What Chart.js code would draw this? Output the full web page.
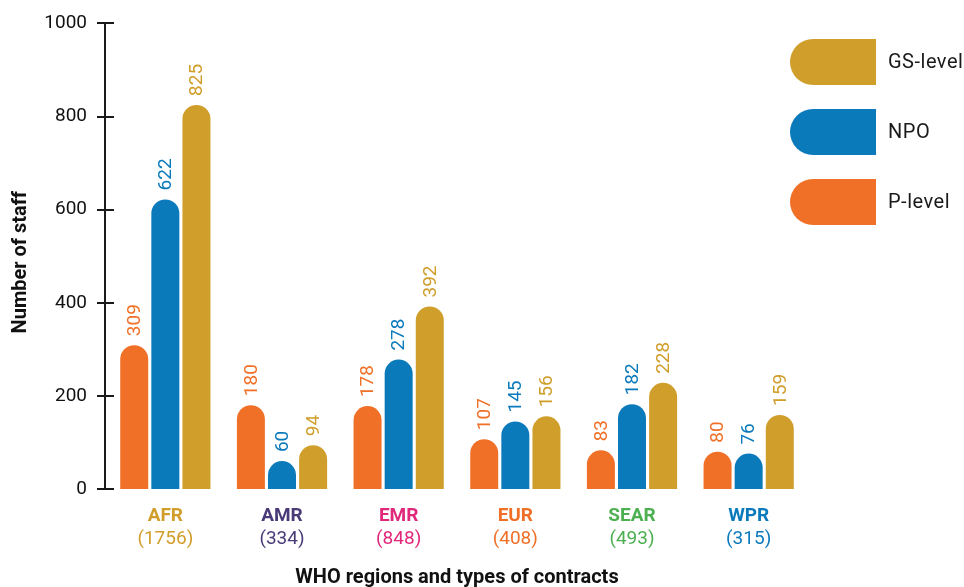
<!DOCTYPE html>
<html>
<head>
<meta charset="utf-8">
<script src="https://cdn.jsdelivr.net/npm/chart.js@4"></script>
<style>
  html, body { margin: 0; padding: 0; background: #fff; }
  #wrap { width: 964px; height: 587px; position: relative; }
</style>
</head>
<body>
<div id="wrap"><canvas id="staff-chart"></canvas></div>
<script>
'use strict';

// ---- Data ----
var regions = ['AFR', 'AMR', 'EMR', 'EUR', 'SEAR', 'WPR'];
var regionTotals = [1756, 334, 848, 408, 493, 315];
var regionColors = ['#d19e2b', '#4a3b78', '#e0287b', '#f07028', '#4caf50', '#0b7abc'];

var pLevel = [309, 180, 178, 107, 83, 80];
var npo = [622, 60, 278, 145, 182, 76];
var gsLevel = [825, 94, 392, 156, 228, 159];

var yTicks = [0, 200, 400, 600, 800, 1000];

var ORANGE = '#f07028';
var BLUE = '#0b7abb';
var GOLD = '#d09e2b';
var INK = '#1a1a1a';
var FONT = 'Roboto, "Noto Sans", sans-serif';

// Value labels, rotated, sitting on top of each bar
var barLabels = {
  id: 'barLabels',
  afterDatasetsDraw: function(chart) {
    var ctx = chart.ctx;
    chart.data.datasets.forEach(function(ds, i) {
      var meta = chart.getDatasetMeta(i);
      meta.data.forEach(function(bar, j) {
        ctx.save();
        ctx.translate(bar.x, bar.y - 9);
        ctx.rotate(-Math.PI / 2);
        ctx.font = '19px ' + FONT;
        ctx.fillStyle = ds.backgroundColor;
        ctx.textAlign = 'left';
        ctx.textBaseline = 'middle';
        ctx.fillText(String(ds.data[j]), 0, 1);
        ctx.restore();
      });
    });
  }
};

// Y axis line with crossing ticks, region labels, axis titles, legend
var decorations = {
  id: 'decorations',
  afterDraw: function(chart) {
    var ctx = chart.ctx;
    var y = chart.scales.y;
    var x = chart.scales.x;
    var area = chart.chartArea;
    var axisX = area.left - 2;

    ctx.save();
    ctx.strokeStyle = INK;
    ctx.lineWidth = 2;
    ctx.beginPath();
    ctx.moveTo(axisX, y.getPixelForValue(1000));
    ctx.lineTo(axisX, y.getPixelForValue(0));
    ctx.stroke();
    yTicks.forEach(function(v) {
      var py = Math.round(y.getPixelForValue(v));
      ctx.beginPath();
      ctx.moveTo(axisX - 8, py);
      ctx.lineTo(axisX + 9, py);
      ctx.stroke();
    });

    // region names + totals
    ctx.textAlign = 'center';
    ctx.textBaseline = 'middle';
    regions.forEach(function(r, i) {
      var px = x.getPixelForValue(i);
      ctx.fillStyle = regionColors[i];
      ctx.font = 'bold 19px ' + FONT;
      ctx.fillText(r, px, area.bottom + 27);
      ctx.font = '19px ' + FONT;
      ctx.fillText('(' + regionTotals[i] + ')', px, area.bottom + 50);
    });

    ctx.fillStyle = '#111';
    ctx.font = 'bold 20px ' + FONT;
    ctx.fillText('WHO regions and types of contracts', 457, area.bottom + 89);

    ctx.save();
    ctx.translate(21, (area.top + area.bottom) / 2 + 6);
    ctx.rotate(-Math.PI / 2);
    ctx.fillText('Number of staff', 0, 0);
    ctx.restore();

    // legend pills: rounded left end, square right end
    var items = chart.data.datasets.slice().reverse();
    var lx = 790, ly = 39, w = 86, h = 46, r = 23, step = 70;
    items.forEach(function(ds, k) {
      var top = ly + k * step;
      ctx.fillStyle = ds.backgroundColor;
      ctx.beginPath();
      ctx.moveTo(lx + w, top);
      ctx.lineTo(lx + r, top);
      ctx.arc(lx + r, top + r, r, -Math.PI / 2, Math.PI / 2, true);
      ctx.lineTo(lx + w, top + h);
      ctx.closePath();
      ctx.fill();
      ctx.fillStyle = INK;
      ctx.font = '20px ' + FONT;
      ctx.letterSpacing = '0.5px';
      ctx.textAlign = 'left';
      ctx.fillText(ds.label, lx + w + 12, top + h / 2 + 1);
      ctx.letterSpacing = '0px';
    });
    ctx.restore();
  }
};

function barSet(label, data, color) {
  return {
    label: label,
    data: data,
    backgroundColor: color,
    borderRadius: { topLeft: 99, topRight: 99, bottomLeft: 0, bottomRight: 0 },
    borderSkipped: 'bottom',
    categoryPercentage: 0.8,
    barPercentage: 0.9
  };
}

new Chart(document.getElementById('staff-chart'), {
  type: 'bar',
  data: {
    labels: regions,
    datasets: [
      barSet('P-level', pLevel, ORANGE),
      barSet('NPO', npo, BLUE),
      barSet('GS-level', gsLevel, GOLD)
    ]
  },
  plugins: [barLabels, decorations],
  options: {
    responsive: true,
    maintainAspectRatio: false,
    animation: false,
    layout: { padding: { top: 19, right: 157, left: 0, bottom: 0 } },
    plugins: {
      legend: { display: false },
      tooltip: { enabled: false }
    },
    scales: {
      x: {
        grid: { display: false },
        border: { display: false },
        ticks: { display: false },
        afterFit: function(s) { s.height = 98; }
      },
      y: {
        min: 0,
        max: 1000,
        afterBuildTicks: function(s) {
          s.ticks = yTicks.map(function(v) { return { value: v }; });
        },
        afterFit: function(s) { s.width = 107; },
        grid: { display: false },
        border: { display: false },
        ticks: {
          color: '#111',
          padding: 12,
          font: { family: FONT, size: 19 },
          callback: function(v) { return String(v); }
        }
      }
    }
  }
});
</script>
</body>
</html>
